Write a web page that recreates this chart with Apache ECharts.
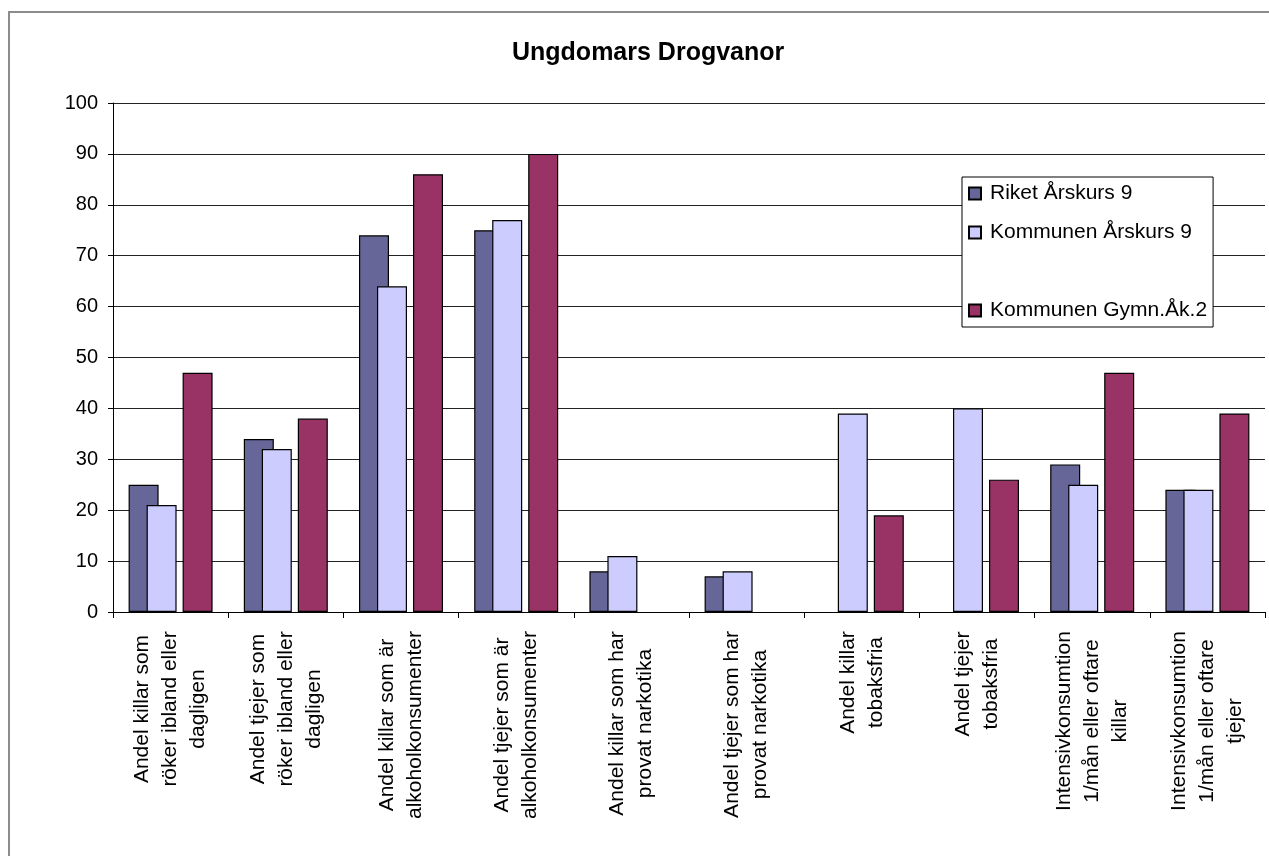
<!DOCTYPE html>
<html>
<head>
<meta charset="utf-8">
<script src="https://cdn.jsdelivr.net/npm/echarts@6/dist/echarts.min.js"></script>
<style>
  html, body { margin: 0; padding: 0; background: #fff; }
  #chart { width: 1269px; height: 856px; }
</style>
</head>
<body>
<div id="chart"></div>
<script>
// kategorier (radbrytningar som i originalet)
var categories = [
  'Andel killar som\nröker ibland eller\ndagligen',
  'Andel tjejer som\nröker ibland eller\ndagligen',
  'Andel killar som är\nalkoholkonsumenter',
  'Andel tjejer som är\nalkoholkonsumenter',
  'Andel killar som har\nprovat narkotika',
  'Andel tjejer som har\nprovat narkotika',
  'Andel killar\ntobaksfria',
  'Andel tjejer\ntobaksfria',
  'Intensivkonsumtion\n1/mån eller oftare\nkillar',
  'Intensivkonsumtion\n1/mån eller oftare\ntjejer'
];

var riketAk9 = [25, 34, 74, 75, 8, 7, null, null, 29, 24];
var kommunenAk9 = [21, 32, 64, 77, 11, 8, 39, 40, 25, 24];
var tomSerie = [null, null, null, null, null, null, null, null, null, null]; // tom serie (luckan i legenden)
var kommunenGymn = [47, 38, 86, 90, null, null, 19, 26, 47, 39];

var seriesNames = ['Riket Årskurs 9', 'Kommunen Årskurs 9', '\u00a0', 'Kommunen Gymn.Åk.2'];
var seriesColors = ['#666699', '#CCCCFF', '#FFFFFF', '#993366'];

var yMin = 0, yMax = 100, yStep = 10;

var fontFam = '"Liberation Sans", Arial, sans-serif';
var catSize = 21;

// mät bredaste raden per etikett så raderna kan centreras
var ctx = document.createElement('canvas').getContext('2d');
ctx.font = catSize + 'px ' + fontFam;
var rich = {};
categories.forEach(function (c, i) {
  var w = 0;
  c.split('\n').forEach(function (s) {
    w = Math.max(w, ctx.measureText(s).width);
  });
  rich['c' + i] = {
    width: Math.ceil(w) + 2,
    align: 'center',
    fontSize: catSize,
    fontFamily: fontFam,
    color: '#000',
    lineHeight: 28
  };
});

var chart = echarts.init(document.getElementById('chart'));

var seriesData = [riketAk9, kommunenAk9, tomSerie, kommunenGymn];

var option = {
  animation: false,
  backgroundColor: '#fff',
  graphic: [{
    type: 'rect',
    shape: { x: 9, y: 12, width: 1300, height: 900 },
    style: { fill: 'none', stroke: '#8c8c8c', lineWidth: 2 },
    silent: true
  }],
  title: {
    text: 'Ungdomars Drogvanor',
    left: 512,
    top: 41,
    padding: 0,
    textStyle: { fontSize: 25, fontWeight: 'bold', fontFamily: fontFam, color: '#000' }
  },
  legend: {
    orient: 'vertical',
    left: 962,
    top: 177,
    padding: [6, 6, 6, 6],
    itemGap: 18,
    itemWidth: 12,
    itemHeight: 12,
    icon: 'rect',
    borderColor: '#000',
    borderWidth: 1,
    backgroundColor: '#fff',
    textStyle: { fontSize: 21, fontFamily: fontFam, color: '#000', padding: [0, 0, 0, 4] },
    data: [
      { name: seriesNames[0] },
      { name: seriesNames[1] },
      { name: seriesNames[2], icon: 'none' },
      { name: seriesNames[3] }
    ]
  },
  grid: {
    left: 113,
    right: 4,
    top: 103,
    bottom: 244,
    containLabel: false,
    outerBoundsMode: 'none'
  },
  xAxis: {
    type: 'category',
    data: categories,
    axisLine: { lineStyle: { color: '#000', width: 1 } },
    axisTick: { show: true, length: 6, lineStyle: { color: '#000' } },
    axisLabel: {
      interval: 0,
      rotate: 90,
      margin: 18,
      rich: rich,
      formatter: function (value, idx) {
        return value.split('\n').map(function (s) {
          return '{c' + idx + '|' + s + '}';
        }).join('\n');
      }
    },
    splitLine: { show: false }
  },
  yAxis: {
    type: 'value',
    min: yMin,
    max: yMax,
    interval: yStep,
    axisLine: { show: true, lineStyle: { color: '#000', width: 1 } },
    axisTick: { show: true, length: 5, lineStyle: { color: '#000' } },
    axisLabel: { fontSize: 20, fontFamily: fontFam, color: '#000', margin: 15 },
    splitLine: { show: true, lineStyle: { color: '#222', width: 1 } }
  },
  series: seriesNames.map(function (name, i) {
    return {
      name: name,
      type: 'bar',
      data: seriesData[i],
      barWidth: 30,
      barGap: '-40%',
      itemStyle: { color: seriesColors[i], borderColor: '#000', borderWidth: 1.2 }
    };
  })
};

chart.setOption(option);
</script>
</body>
</html>
